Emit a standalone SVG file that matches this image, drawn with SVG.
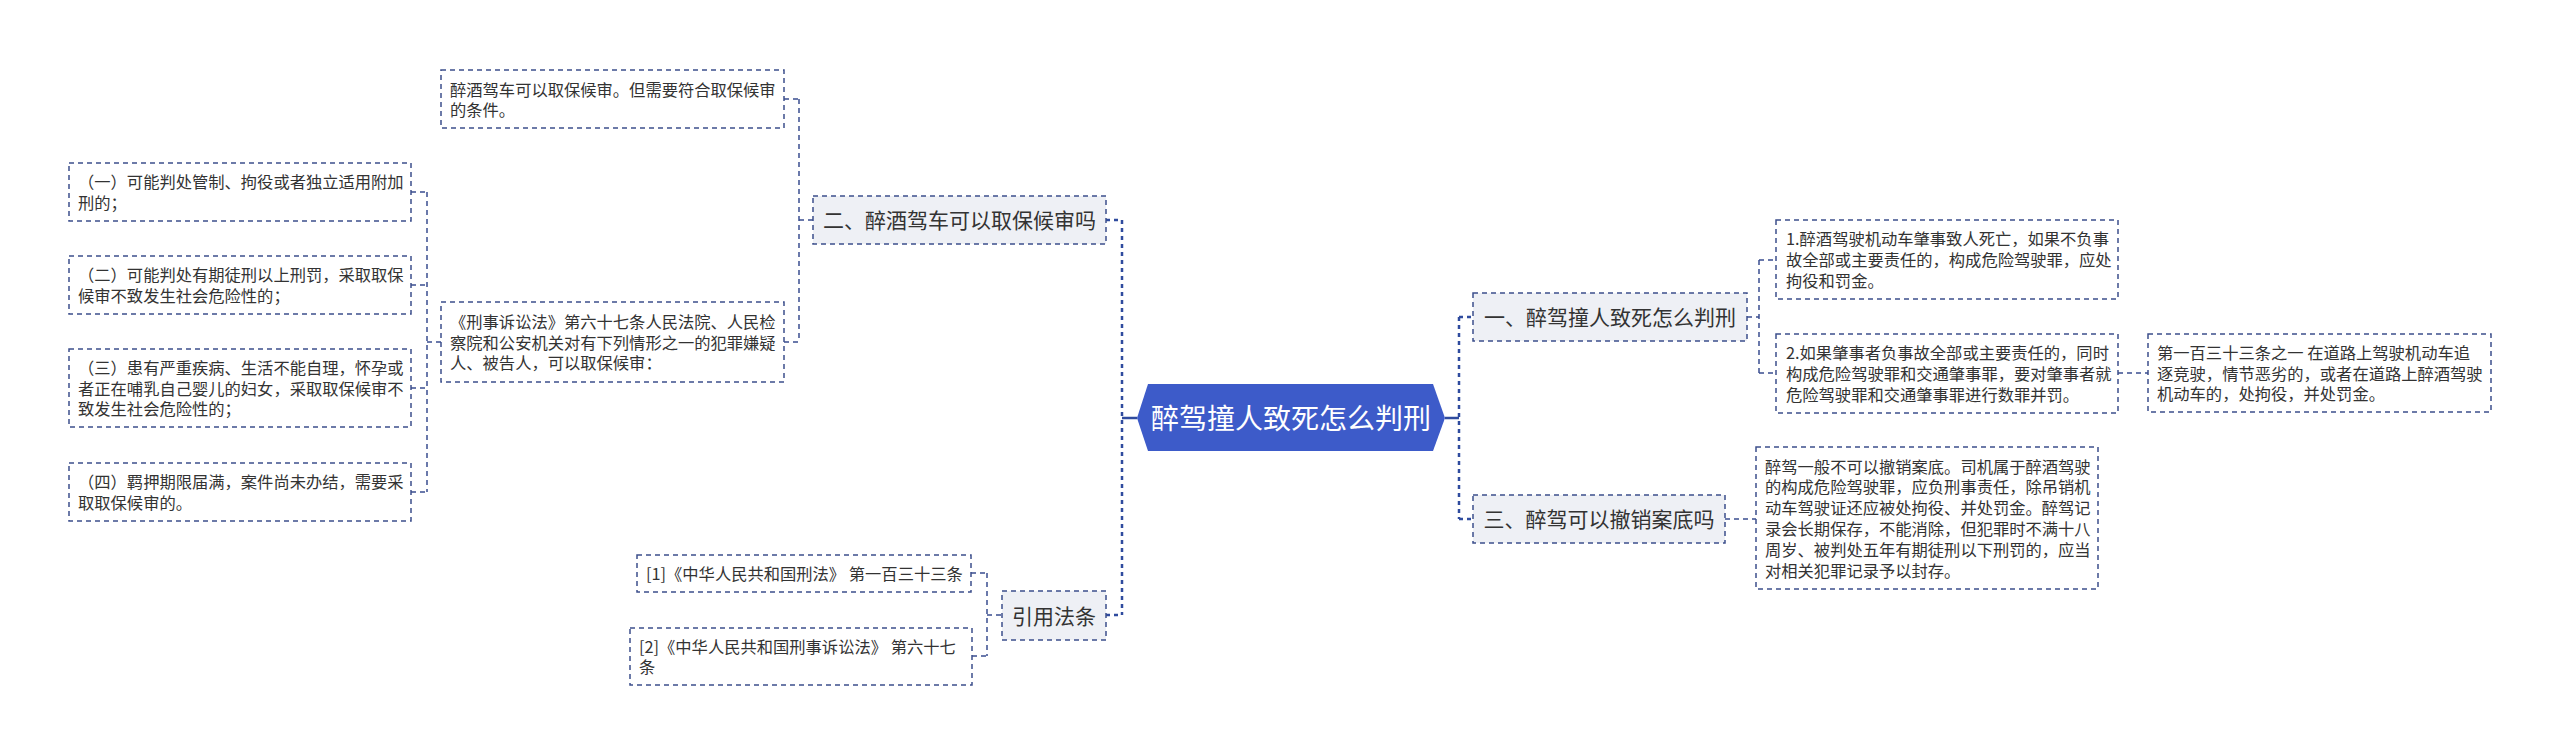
<svg xmlns="http://www.w3.org/2000/svg" width="2560" height="756" viewBox="0 0 2560 756">
<style>
text{font-family:"Noto Sans CJK SC","Noto Sans",sans-serif;fill:#333333}
.leaf rect{fill:#ffffff;stroke:#3d4f8c;stroke-width:1.5;stroke-dasharray:5 4}
.leaf text{font-size:16.3px}
.l1 rect{fill:#eef0f5;stroke:#3d4f8c;stroke-width:1.5;stroke-dasharray:5 4}
.l1 text{font-size:21px;text-anchor:middle}
.main{stroke:#2f4b9e;stroke-width:2.5;stroke-dasharray:4 4;fill:none}
.solid{stroke:#2f4b9e;stroke-width:2.5;fill:none}
.sub{stroke:#3a4e90;stroke-width:1.5;stroke-dasharray:5 4;fill:none}
</style>
<rect width="2560" height="756" fill="#ffffff"/>
<g id="connectors">
<path class="solid" d="M1122 418H1137M1445 418H1459"/>
<path class="main" d="M1122 220V615M1106 220H1122M1106 615H1122"/>
<path class="main" d="M1459 317V519M1459 317H1473M1459 519H1473"/>
<path class="sub" d="M799 99V342M799 220H813M784 99H799M784 342H799"/>
<path class="sub" d="M427 192V492M427 342H441M411 192H427M411 285H427M411 388H427M411 492H427"/>
<path class="sub" d="M987 573V656M987 615H1002M971 573H987M972 656H987"/>
<path class="sub" d="M1759 260V373M1747 317H1759M1759 260H1776M1759 373H1776"/>
<path class="sub" d="M2118 373H2148"/>
<path class="sub" d="M1725 519H1756"/>
</g>
<g id="root">
<polygon points="1137,418 1148,384 1433,384 1445,418 1433,451 1148,451" fill="#3d5bc9"/>
<text x="1291" y="428.5" style="font-size:28px;fill:#ffffff;text-anchor:middle">醉驾撞人致死怎么判刑</text>
</g>
<g id="n-er" class="l1">
<rect x="813" y="196" width="293" height="48"/>
<text x="959.5" y="228">二、醉酒驾车可以取保候审吗</text>
</g>
<g id="n-yinyong" class="l1">
<rect x="1002" y="591" width="104" height="49"/>
<text x="1054" y="623.5">引用法条</text>
</g>
<g id="n-yi" class="l1">
<rect x="1473" y="293" width="274" height="48"/>
<text x="1610" y="325">一、醉驾撞人致死怎么判刑</text>
</g>
<g id="n-san" class="l1">
<rect x="1473" y="495" width="252" height="48"/>
<text x="1599" y="527">三、醉驾可以撤销案底吗</text>
</g>
<g id="leaf-a" class="leaf">
<rect x="441" y="70" width="343" height="58"/>
<text x="450" y="95.5">醉酒驾车可以取保候审。但需要符合取保候审</text>
<text x="450" y="116.3">的条件。</text>
</g>
<g id="leaf-b" class="leaf">
<rect x="441" y="302" width="343" height="80"/>
<text x="450" y="327.7">《刑事诉讼法》第六十七条人民法院、人民检</text>
<text x="450" y="348.5">察院和公安机关对有下列情形之一的犯罪嫌疑</text>
<text x="450" y="369.3">人、被告人，可以取保候审：</text>
</g>
<g id="leaf-1" class="leaf">
<rect x="69" y="163" width="342" height="58"/>
<text x="78" y="188.1">（一）可能判处管制、拘役或者独立适用附加</text>
<text x="78" y="208.9">刑的；</text>
</g>
<g id="leaf-2" class="leaf">
<rect x="69" y="256" width="342" height="58"/>
<text x="78" y="281.1">（二）可能判处有期徒刑以上刑罚，采取取保</text>
<text x="78" y="301.9">候审不致发生社会危险性的；</text>
</g>
<g id="leaf-3" class="leaf">
<rect x="69" y="349" width="342" height="78"/>
<text x="78" y="373.7">（三）患有严重疾病、生活不能自理，怀孕或</text>
<text x="78" y="394.5">者正在哺乳自己婴儿的妇女，采取取保候审不</text>
<text x="78" y="415.3">致发生社会危险性的；</text>
</g>
<g id="leaf-4" class="leaf">
<rect x="69" y="463" width="342" height="58"/>
<text x="78" y="488.1">（四）羁押期限届满，案件尚未办结，需要采</text>
<text x="78" y="508.9">取取保候审的。</text>
</g>
<g id="ref-1" class="leaf">
<rect x="637" y="555" width="334" height="37"/>
<text x="646" y="579.5">[1]《中华人民共和国刑法》 第一百三十三条</text>
</g>
<g id="ref-2" class="leaf">
<rect x="630" y="628" width="342" height="57"/>
<text x="639" y="652.6">[2]《中华人民共和国刑事诉讼法》 第六十七</text>
<text x="639" y="673.4">条</text>
</g>
<g id="leaf-r1" class="leaf">
<rect x="1776" y="220" width="342" height="79"/>
<text x="1786" y="245.2">1.醉酒驾驶机动车肇事致人死亡，如果不负事</text>
<text x="1786" y="266">故全部或主要责任的，构成危险驾驶罪，应处</text>
<text x="1786" y="286.8">拘役和罚金。</text>
</g>
<g id="leaf-r2" class="leaf">
<rect x="1776" y="334" width="342" height="79"/>
<text x="1786" y="359.2">2.如果肇事者负事故全部或主要责任的，同时</text>
<text x="1786" y="380">构成危险驾驶罪和交通肇事罪，要对肇事者就</text>
<text x="1786" y="400.8">危险驾驶罪和交通肇事罪进行数罪并罚。</text>
</g>
<g id="leaf-r3" class="leaf">
<rect x="2148" y="334" width="343" height="78"/>
<text x="2157" y="358.7">第一百三十三条之一 在道路上驾驶机动车追</text>
<text x="2157" y="379.5">逐竞驶，情节恶劣的，或者在道路上醉酒驾驶</text>
<text x="2157" y="400.3">机动车的，处拘役，并处罚金。</text>
</g>
<g id="leaf-r4" class="leaf">
<rect x="1756" y="447" width="342" height="142"/>
<text x="1765" y="472.5">醉驾一般不可以撤销案底。司机属于醉酒驾驶</text>
<text x="1765" y="493.3">的构成危险驾驶罪，应负刑事责任，除吊销机</text>
<text x="1765" y="514.1">动车驾驶证还应被处拘役、并处罚金。醉驾记</text>
<text x="1765" y="534.9">录会长期保存，不能消除，但犯罪时不满十八</text>
<text x="1765" y="555.7">周岁、被判处五年有期徒刑以下刑罚的，应当</text>
<text x="1765" y="576.5">对相关犯罪记录予以封存。</text>
</g>
</svg>
